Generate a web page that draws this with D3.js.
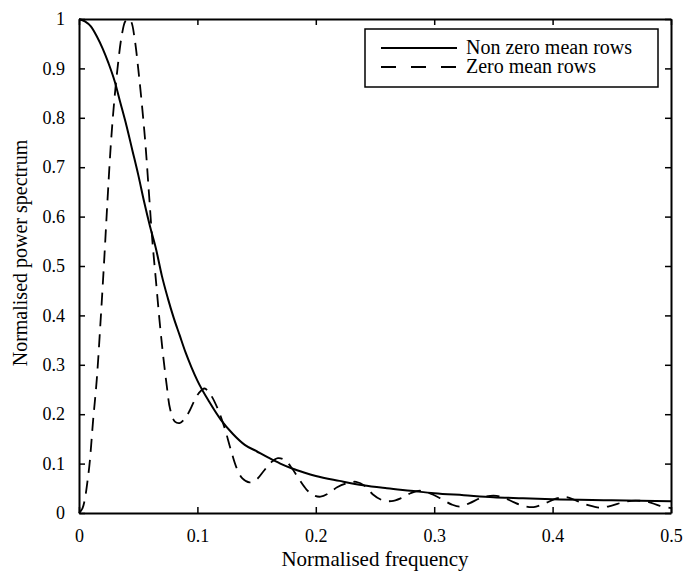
<!DOCTYPE html>
<html>
<head>
<meta charset="utf-8">
<script src="https://cdn.jsdelivr.net/npm/d3@7"></script>
<style>
	html, body { margin: 0; padding: 0; background: #fff; overflow: hidden; }
	svg { display: block; }
	svg text { font-family: "Liberation Serif", "Times New Roman", serif; fill: #000; }
</style>
</head>
<body>
<div id="chart"></div>
<script>
// Normalised frequency / power
const solidFreq = [0, 0.005, 0.01, 0.015, 0.02, 0.025, 0.03, 0.035, 0.04, 0.045, 0.05, 0.055, 0.06, 0.065, 0.07, 0.075, 0.08, 0.085, 0.09, 0.095, 0.1, 0.11, 0.12, 0.13, 0.14, 0.15, 0.16, 0.17, 0.18, 0.19, 0.2, 0.22, 0.24, 0.26, 0.28, 0.3, 0.325, 0.35, 0.375, 0.4, 0.45, 0.5];
const solidPower = [1, 0.995, 0.985, 0.965, 0.94, 0.91, 0.875, 0.83, 0.785, 0.735, 0.685, 0.63, 0.58, 0.535, 0.48, 0.435, 0.395, 0.36, 0.325, 0.295, 0.268, 0.225, 0.188, 0.16, 0.138, 0.125, 0.112, 0.1, 0.09, 0.082, 0.075, 0.065, 0.056, 0.05, 0.045, 0.04, 0.036, 0.032, 0.03, 0.028, 0.026, 0.024];

const dashFreq = [0, 0.003, 0.008, 0.012, 0.015, 0.018, 0.021, 0.024, 0.027, 0.03, 0.033, 0.036, 0.039, 0.0415, 0.044, 0.047, 0.05, 0.053, 0.056, 0.059, 0.062, 0.065, 0.068, 0.071, 0.074, 0.077, 0.081, 0.085, 0.089, 0.093, 0.097, 0.101, 0.106, 0.111, 0.117, 0.123, 0.128, 0.133, 0.138, 0.144, 0.15, 0.156, 0.162, 0.168, 0.174, 0.18, 0.186, 0.192, 0.198, 0.204, 0.211, 0.218, 0.226, 0.234, 0.242, 0.248, 0.256, 0.264, 0.272, 0.28, 0.288, 0.296, 0.305, 0.315, 0.322, 0.33, 0.34, 0.35, 0.358, 0.367, 0.376, 0.384, 0.394, 0.404, 0.412, 0.42, 0.43, 0.44, 0.45, 0.46, 0.47, 0.48, 0.49, 0.5];
const dashPower = [0, 0.01, 0.08, 0.19, 0.27, 0.38, 0.5, 0.63, 0.75, 0.84, 0.91, 0.965, 0.995, 1, 0.995, 0.96, 0.9, 0.83, 0.75, 0.65, 0.55, 0.47, 0.39, 0.32, 0.26, 0.21, 0.185, 0.182, 0.19, 0.205, 0.225, 0.242, 0.252, 0.24, 0.212, 0.172, 0.13, 0.092, 0.07, 0.062, 0.068, 0.085, 0.102, 0.111, 0.107, 0.09, 0.068, 0.048, 0.036, 0.033, 0.04, 0.052, 0.06, 0.063, 0.054, 0.038, 0.026, 0.024, 0.03, 0.04, 0.045, 0.04, 0.03, 0.017, 0.013, 0.02, 0.031, 0.035, 0.032, 0.022, 0.014, 0.012, 0.02, 0.03, 0.032, 0.025, 0.016, 0.011, 0.015, 0.022, 0.025, 0.023, 0.015, 0.01];

const xTicks = [0, 0.1, 0.2, 0.3, 0.4, 0.5];
const yTicks = [0, 0.1, 0.2, 0.3, 0.4, 0.5, 0.6, 0.7, 0.8, 0.9, 1];
const xTickLabels = ['0', '0.1', '0.2', '0.3', '0.4', '0.5'];
const yTickLabels = ['0', '0.1', '0.2', '0.3', '0.4', '0.5', '0.6', '0.7', '0.8', '0.9', '1'];
const legendNames = ['Non zero mean rows', 'Zero mean rows'];

const width = 688, height = 576;
const margin = {top: 19, right: 17, bottom: 63, left: 79};
const innerWidth = width - margin.left - margin.right,
	innerHeight = height - margin.top - margin.bottom;

const svg = d3.select('#chart')
	.append('svg')
		.attr('width', width)
		.attr('height', height);

const g = svg.append('g')
	.attr('transform', `translate(${margin.left}, ${margin.top})`);

const x = d3.scaleLinear().domain([0, 0.5]).range([0, innerWidth]);
const y = d3.scaleLinear().domain([0, 1]).range([innerHeight, 0]);

// Lines
const line = d3.line()
	.x(d => x(d[0]))
	.y(d => y(d[1]))
	.curve(d3.curveMonotoneX);

const solidData = solidFreq.map((f, i) => [f, solidPower[i]]);
const dashData = dashFreq.map((f, i) => [f, dashPower[i]]);

g.append('path')
	.datum(solidData)
	.attr('d', line)
	.style('fill', 'none')
	.style('stroke', '#000')
	.style('stroke-width', 2);

g.append('path')
	.datum(dashData)
	.attr('d', d3.line().x(d => x(d[0])).y(d => y(d[1])).curve(d3.curveCatmullRom))
	.style('fill', 'none')
	.style('stroke', '#000')
	.style('stroke-width', 1.8)
	.style('stroke-dasharray', '13, 8');

// Axes: ticks point inward, mirrored on top and right
const tickFmt = (labels, ticks) => (d => labels[ticks.indexOf(d)]);

g.append('g')
	.attr('transform', `translate(0, ${innerHeight})`)
	.call(d3.axisBottom(x).tickValues(xTicks).tickSizeInner(-6).tickSizeOuter(0).tickPadding(16)
		.tickFormat(tickFmt(xTickLabels, xTicks)));

g.append('g')
	.call(d3.axisLeft(y).tickValues(yTicks).tickSizeInner(-6).tickSizeOuter(0).tickPadding(14)
		.tickFormat(tickFmt(yTickLabels, yTicks)));

g.append('g')
	.call(d3.axisTop(x).tickValues(xTicks).tickSizeInner(-6).tickSizeOuter(0).tickFormat(''));

g.append('g')
	.attr('transform', `translate(${innerWidth}, 0)`)
	.call(d3.axisRight(y).tickValues(yTicks).tickSizeInner(-6).tickSizeOuter(0).tickFormat(''));

g.selectAll('.domain').style('stroke', '#000').style('stroke-width', 2);
g.selectAll('.tick line').style('stroke', '#000').style('stroke-width', 1.5);
g.selectAll('.tick text').style('font-size', '18px').style('font-family', '"Liberation Serif", serif');

// Axis labels
g.append('text')
	.attr('x', innerWidth / 2)
	.attr('y', innerHeight + 53)
	.attr('text-anchor', 'middle')
	.style('font-size', '21px')
	.text('Normalised frequency');

g.append('text')
	.attr('transform', 'rotate(-90)')
	.attr('x', -(innerHeight / 2) + 13)
	.attr('y', -52)
	.attr('text-anchor', 'middle')
	.style('font-size', '20px')
	.text('Normalised power spectrum');

// Legend
const legend = svg.append('g').attr('transform', 'translate(365, 29)');
legend.append('rect')
	.attr('width', 293)
	.attr('height', 58)
	.style('fill', '#fff')
	.style('stroke', '#000')
	.style('stroke-width', 1.5);

legendNames.forEach((name, i) => {
	const row = legend.append('g').attr('transform', `translate(0, ${19 + i * 19})`);
	row.append('line')
		.attr('x1', 16).attr('x2', 92)
		.attr('y1', 0).attr('y2', 0)
		.style('stroke', '#000')
		.style('stroke-width', i === 0 ? 2 : 1.8)
		.style('stroke-dasharray', i === 0 ? null : '15, 15');
	row.append('text')
		.attr('x', 101)
		.attr('y', 6)
		.style('font-size', '20px')
		.text(name);
});
</script>
</body>
</html>
